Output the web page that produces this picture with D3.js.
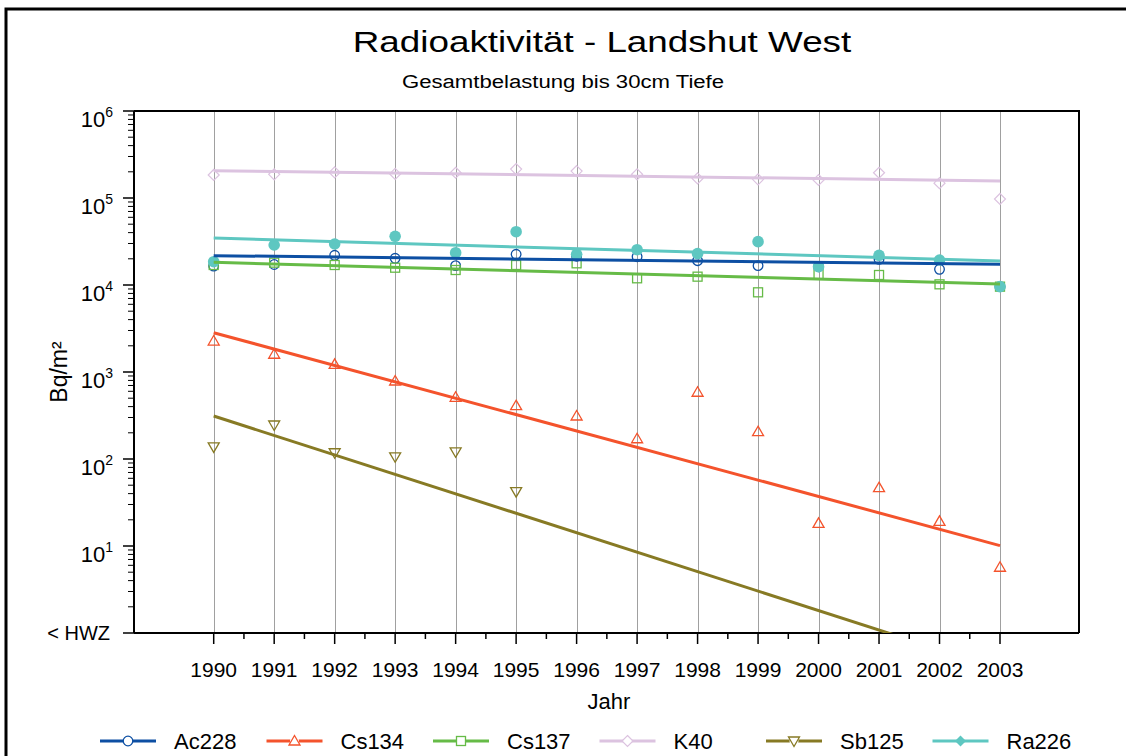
<!DOCTYPE html>
<html>
<head>
<meta charset="utf-8">
<script src="https://cdn.jsdelivr.net/npm/d3@7"></script>
<style>
  body { margin: 0; background: #fff; }
  svg { display: block; font-family: "Liberation Sans", Arial, sans-serif; }
</style>
</head>
<body>
<div id="chart"></div>
<script>
// data
const years = [1990, 1991, 1992, 1993, 1994, 1995, 1996, 1997, 1998, 1999, 2000, 2001, 2002, 2003];

const ac228 = [16500, 17200, 21950, 20270, 16680, 22550, 21400, 21150, 19030, 16680, 16230, 19730, 15150, 9570];
const cs134 = [2270, 1600, 1226, 788, 512, 410, 312, 171, 585, 206, 18.2, 46.8, 19.2, 5.7];
const cs137 = [16980, 18060, 16980, 15810, 14870, 16980, 17750, 11940, 12470, 8240, 13270, 13030, 10180, 9570];
const k40 = [184000, 187000, 197000, 189000, 195000, 215000, 204000, 187000, 168000, 164000, 161000, 195000, 148000, 97500];
const sb125 = [138, 246, 118, 106, 121, 42.1];
const ra226 = [18530, 28820, 29590, 36290, 23510, 41000, 22550, 25460, 22920, 31480, 16230, 21950, 19380, 9570];

// trend lines: value at 1990 and at 2003
const trendAc228 = [21730, 17300];
const trendCs134 = [2830, 10.1];
const trendCs137 = [18240, 10270];
const trendK40 = [206000, 157000];
const trendSb125 = [312, 0.386];
const trendRa226 = [34670, 18870];

const yTicks = [1, 10, 100, 1000, 10000, 100000, 1000000];

const series = [
  {name: "Ac228", values: ac228, trend: trendAc228, color: "#0d4fa3", shape: "circle"},
  {name: "Cs134", values: cs134, trend: trendCs134, color: "#f4532c", shape: "triUp"},
  {name: "Cs137", values: cs137, trend: trendCs137, color: "#66bb47", shape: "square"},
  {name: "K40", values: k40, trend: trendK40, color: "#dcc3e0", shape: "diamond"},
  {name: "Sb125", values: sb125, trend: trendSb125, color: "#877a24", shape: "triDown"},
  {name: "Ra226", values: ra226, trend: trendRa226, color: "#5ec7c1", shape: "dot"}
];

const W = 1126, H = 756;
const plot = {left: 134, right: 1079, top: 111, bottom: 633};

const svg = d3.select("#chart").append("svg")
    .attr("width", W)
    .attr("height", H);

// outer frame
svg.append("rect")
    .attr("x", 6).attr("y", 9)
    .attr("width", W + 20).attr("height", H + 20)
    .attr("fill", "none")
    .attr("stroke", "#000")
    .attr("stroke-width", 3);

const x = d3.scaleLinear().domain([1990, 2003]).range([213.7, 1000]);
const y = d3.scaleLog().domain([1, 1e6]).range([plot.bottom, plot.top]);

// title (the original lettering is wider than Arial, hence the stretch)
svg.append("text")
    .attr("transform", "translate(602,52) scale(1.27,1)")
    .attr("text-anchor", "middle")
    .attr("font-size", 29)
    .text("Radioaktivität - Landshut West");
svg.append("text")
    .attr("transform", "translate(563,88) scale(1.23,1)")
    .attr("text-anchor", "middle")
    .attr("font-size", 18)
    .text("Gesamtbelastung bis 30cm Tiefe");

// grid
svg.append("g").selectAll("line")
  .data(years)
  .enter().append("line")
    .attr("x1", d => Math.round(x(d)) + 0.5)
    .attr("x2", d => Math.round(x(d)) + 0.5)
    .attr("y1", plot.top)
    .attr("y2", plot.bottom)
    .attr("stroke", "#a0a0a0")
    .attr("stroke-width", 1);

// plot frame
svg.append("path")
    .attr("d", `M${plot.left},${plot.top}H${plot.right}V${plot.bottom}`)
    .attr("fill", "none")
    .attr("stroke", "#000")
    .attr("stroke-width", 2);

// x axis
const minorYears = d3.range(1990.5, 2003, 1);
const xAxis = svg.append("g");
xAxis.append("line")
    .attr("x1", plot.left).attr("x2", plot.right)
    .attr("y1", plot.bottom).attr("y2", plot.bottom)
    .attr("stroke", "#000").attr("stroke-width", 2);
xAxis.selectAll(".maj").data(years).enter().append("line")
    .attr("x1", d => x(d)).attr("x2", d => x(d))
    .attr("y1", plot.bottom).attr("y2", plot.bottom + 11)
    .attr("stroke", "#000").attr("stroke-width", 1.5);
xAxis.selectAll(".min").data(minorYears).enter().append("line")
    .attr("x1", d => x(d)).attr("x2", d => x(d))
    .attr("y1", plot.bottom).attr("y2", plot.bottom + 6)
    .attr("stroke", "#000").attr("stroke-width", 1.5);
xAxis.selectAll("text").data(years).enter().append("text")
    .attr("x", d => x(d))
    .attr("y", 677)
    .attr("text-anchor", "middle")
    .attr("font-size", 21)
    .text(d => d);
svg.append("text")
    .attr("x", 609).attr("y", 709)
    .attr("text-anchor", "middle")
    .attr("font-size", 22)
    .text("Jahr");

// y axis
const yAxis = svg.append("g");
yAxis.append("line")
    .attr("x1", plot.left).attr("x2", plot.left)
    .attr("y1", plot.top).attr("y2", plot.bottom)
    .attr("stroke", "#000").attr("stroke-width", 2);
yAxis.selectAll(".maj").data(yTicks).enter().append("line")
    .attr("x1", plot.left - 11).attr("x2", plot.left)
    .attr("y1", d => y(d)).attr("y2", d => y(d))
    .attr("stroke", "#000").attr("stroke-width", 1.5);
const minorY = [];
yTicks.slice(0, -1).forEach(t => d3.range(2, 10).forEach(m => minorY.push(t * m)));
yAxis.selectAll(".min").data(minorY).enter().append("line")
    .attr("x1", plot.left - 6).attr("x2", plot.left)
    .attr("y1", d => y(d)).attr("y2", d => y(d))
    .attr("stroke", "#000").attr("stroke-width", 1);
yTicks.forEach(t => {
  const tx = yAxis.append("text")
      .attr("x", 113)
      .attr("y", y(t) + 16)
      .attr("text-anchor", "end")
      .attr("font-size", 22);
  if (t === 1) {
    tx.attr("x", 110).attr("font-size", 20).attr("y", y(t) + 7).text("< HWZ");
  } else {
    tx.append("tspan").text("10");
    tx.append("tspan").attr("font-size", 14).attr("dy", -10).text(Math.round(Math.log10(t)));
  }
});
svg.append("text")
    .attr("transform", "translate(67,372) rotate(-90)")
    .attr("text-anchor", "middle")
    .attr("font-size", 23)
    .text("Bq/m²");

// markers
function drawMarker(g, shape, color, cx, cy) {
  if (shape === "circle") {
    g.append("circle").attr("cx", cx).attr("cy", cy).attr("r", 4.8)
      .attr("fill", "none").attr("stroke", color).attr("stroke-width", 1.3);
  } else if (shape === "dot") {
    g.append("circle").attr("cx", cx).attr("cy", cy).attr("r", 5.8)
      .attr("fill", color).attr("stroke", "none");
  } else if (shape === "square") {
    g.append("rect").attr("x", cx - 4.5).attr("y", cy - 4.5).attr("width", 9).attr("height", 9)
      .attr("fill", "none").attr("stroke", color).attr("stroke-width", 1.3);
  } else if (shape === "diamond") {
    g.append("path").attr("d", `M${cx},${cy - 5.5}L${cx + 5.5},${cy}L${cx},${cy + 5.5}L${cx - 5.5},${cy}Z`)
      .attr("fill", "none").attr("stroke", color).attr("stroke-width", 1.2);
  } else if (shape === "triUp") {
    g.append("path").attr("d", `M${cx},${cy - 5.5}L${cx + 5.5},${cy + 4}L${cx - 5.5},${cy + 4}Z`)
      .attr("fill", "none").attr("stroke", color).attr("stroke-width", 1.3);
  } else if (shape === "triDown") {
    g.append("path").attr("d", `M${cx - 5.5},${cy - 4}L${cx + 5.5},${cy - 4}L${cx},${cy + 5.5}Z`)
      .attr("fill", "none").attr("stroke", color).attr("stroke-width", 1.3);
  }
}

svg.append("clipPath").attr("id", "clip")
  .append("rect")
    .attr("x", plot.left).attr("y", plot.top)
    .attr("width", plot.right - plot.left).attr("height", plot.bottom - plot.top);

// points first, trend lines over them
const marks = svg.append("g");
series.forEach(s => {
  s.values.forEach((v, i) => drawMarker(marks, s.shape, s.color, x(years[i]), y(v)));
});

const line = d3.line().x(d => x(d[0])).y(d => y(d[1]));
const trends = svg.append("g").attr("clip-path", "url(#clip)");
series.forEach(s => {
  trends.append("path")
      .attr("d", line([[1990, s.trend[0]], [2003, s.trend[1]]]))
      .attr("fill", "none")
      .attr("stroke", s.color)
      .attr("stroke-width", 3);
});

// legend
const legend = svg.append("g");
series.forEach((s, i) => {
  const lx = 100 + i * 166.5;
  const ly = 741;
  legend.append("line")
      .attr("x1", lx).attr("x2", lx + 56)
      .attr("y1", ly).attr("y2", ly)
      .attr("stroke", s.color).attr("stroke-width", 3);
  if (s.shape === "dot") {
    legend.append("path")
      .attr("d", `M${lx + 28},${ly - 5.5}L${lx + 33.5},${ly}L${lx + 28},${ly + 5.5}L${lx + 22.5},${ly}Z`)
      .attr("fill", s.color);
  } else {
    const g = legend.append("g");
    // white background so the line does not run through the open marker
    g.append("circle").attr("cx", lx + 28).attr("cy", ly).attr("r", 4.5).attr("fill", "#fff");
    drawMarker(g, s.shape, s.color, lx + 28, ly);
  }
  legend.append("text")
      .attr("x", lx + 74)
      .attr("y", ly + 8)
      .attr("font-size", 22)
      .text(s.name);
});
</script>
</body>
</html>
